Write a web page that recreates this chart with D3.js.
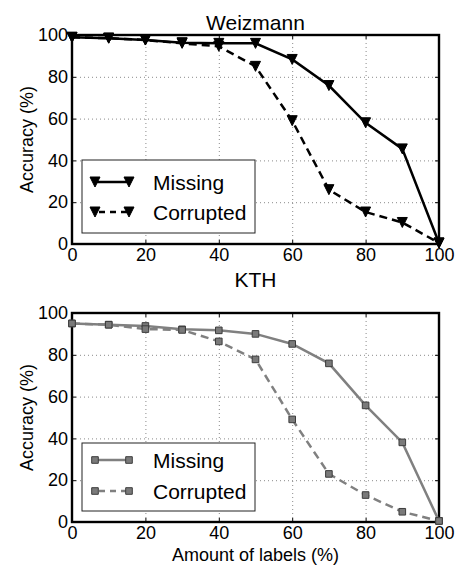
<!DOCTYPE html>
<html>
<head>
<meta charset="utf-8">
<script src="https://cdn.jsdelivr.net/npm/d3@7"></script>
<style>
  html, body { margin: 0; padding: 0; background: #fff; }
  svg { display: block; font-family: "Liberation Sans", Arial, sans-serif; }
</style>
</head>
<body>
<svg id="chart" width="461" height="566"></svg>
<script>
// Werte
const labelAmounts = [0, 10, 20, 30, 40, 50, 60, 70, 80, 90, 100];
const weizmannMissing   = [98.9, 98.5, 97.6, 96.3, 96.0, 96.0, 88.3, 75.8, 58.0, 45.5, 0.5];
const weizmannCorrupted = [98.9, 98.5, 97.6, 96.0, 94.6, 85.0, 59.0, 26.0, 15.3, 10.3, 0.5];
const kthMissing   = [95.0, 94.4, 93.8, 92.2, 91.7, 90.0, 85.2, 75.9, 55.8, 38.1, 0.5];
const kthCorrupted = [95.0, 94.4, 92.3, 91.9, 86.4, 77.8, 49.1, 23.0, 12.9, 4.9, 0.5];
const tickValues = [0, 20, 40, 60, 80, 100];
const gridValues = [20, 40, 60, 80];
const seriesNames = ['Missing', 'Corrupted'];

const svg = d3.select('#chart');

const panels = [
  { title: 'Weizmann', titleY: 30, top: 35, bottom: 244, xLabel: null,
    series: [weizmannMissing, weizmannCorrupted],
    line: '#000', fill: '#000', edge: '#000', marker: 'tri',
    legend: { x: 82, y: 160, w: 173, h: 73, rows: [182, 212] } },
  { title: 'KTH', titleY: 287, top: 313, bottom: 522, xLabel: 'Amount of labels (%)',
    series: [kthMissing, kthCorrupted],
    line: '#808080', fill: '#7a7a7a', edge: '#3c3c3c', marker: 'sq',
    legend: { x: 82, y: 443, w: 173, h: 68, rows: [460, 491] } }
];

const left = 72, right = 439;

function markerPath(kind) {
  if (kind === 'tri') {
    const h = 5;
    return `M${-h},${-h}L${h},${-h}L0,${h}Z`;
  }
  const s = 3.3;
  return `M${-s},${-s}H${s}V${s}H${-s}Z`;
}

function drawPanel(p) {
  const g = svg.append('g');
  const x = d3.scaleLinear().domain([0, 100]).range([left, right]);
  const y = d3.scaleLinear().domain([0, 100]).range([p.bottom, p.top]);
  const h = p.bottom - p.top, w = right - left;

  // Gitter
  const gx = g.append('g').attr('transform', `translate(0,${p.bottom})`)
    .call(d3.axisBottom(x).tickValues(gridValues).tickSize(-h).tickFormat(''));
  const gy = g.append('g').attr('transform', `translate(${left},0)`)
    .call(d3.axisLeft(y).tickValues(gridValues).tickSize(-w).tickFormat(''));
  [gx, gy].forEach(a => {
    a.select('.domain').remove();
    a.selectAll('line').attr('stroke', '#8a8a8a').attr('stroke-width', 1).attr('stroke-dasharray', '1,3');
  });

  // Achsen mit Ticks nach innen
  const axes = [
    g.append('g').attr('transform', `translate(0,${p.bottom})`)
      .call(d3.axisBottom(x).tickValues(tickValues).tickSize(-4).tickPadding(4)),
    g.append('g').attr('transform', `translate(${left},0)`)
      .call(d3.axisLeft(y).tickValues(tickValues).tickSize(-4).tickPadding(4)),
    g.append('g').attr('transform', `translate(0,${p.top})`)
      .call(d3.axisTop(x).tickValues(tickValues).tickSize(-4).tickFormat('')),
    g.append('g').attr('transform', `translate(${right},0)`)
      .call(d3.axisRight(y).tickValues(tickValues).tickSize(-4).tickFormat(''))
  ];
  axes.forEach(a => {
    a.select('.domain').remove();
    a.selectAll('line').attr('stroke', '#000').attr('stroke-width', 1);
    a.selectAll('text').attr('font-size', 18).attr('fill', '#000')
      .attr('font-family', '"Liberation Sans", Arial, sans-serif');
  });

  g.append('rect')
    .attr('x', left).attr('y', p.top).attr('width', w).attr('height', h)
    .attr('fill', 'none').attr('stroke', '#000').attr('stroke-width', 2.4);

  const line = d3.line().x((d, i) => x(labelAmounts[i])).y(d => y(d));
  const dashes = [null, '8,5'];

  p.series.forEach((vals, si) => {
    g.append('path').datum(vals)
      .attr('d', line)
      .attr('fill', 'none')
      .attr('stroke', p.line)
      .attr('stroke-width', 2.5)
      .attr('stroke-dasharray', dashes[si]);
    g.selectAll(null).data(vals).enter().append('path')
      .attr('d', markerPath(p.marker))
      .attr('transform', (d, i) => `translate(${x(labelAmounts[i])},${y(d)})`)
      .attr('fill', p.fill)
      .attr('stroke', p.edge)
      .attr('stroke-width', 1);
  });

  // Titel und Achsenbeschriftungen
  g.append('text').attr('x', (left + right) / 2).attr('y', p.titleY)
    .attr('text-anchor', 'middle').attr('font-size', 21).text(p.title);
  g.append('text')
    .attr('transform', `translate(27,${(p.top + p.bottom) / 2}) rotate(-90)`)
    .attr('text-anchor', 'middle').attr('dominant-baseline', 'central')
    .attr('font-size', 18).text('Accuracy (%)');
  if (p.xLabel) {
    g.append('text').attr('x', (left + right) / 2).attr('y', 561)
      .attr('text-anchor', 'middle').attr('font-size', 18).text(p.xLabel);
  }

  // Legende
  const L = p.legend;
  const lg = g.append('g');
  lg.append('rect').attr('x', L.x).attr('y', L.y).attr('width', L.w).attr('height', L.h)
    .attr('fill', '#fff').attr('stroke', '#222').attr('stroke-width', 1);
  seriesNames.forEach((name, si) => {
    const ry = L.rows[si];
    lg.append('line').attr('x1', 95).attr('x2', 129).attr('y1', ry).attr('y2', ry)
      .attr('stroke', p.line).attr('stroke-width', 2.5)
      .attr('stroke-dasharray', si ? '6,5' : null)
      .attr('stroke-dashoffset', si ? -4 : 0);
    [95, 129].forEach(mx => {
      lg.append('path').attr('d', markerPath(p.marker))
        .attr('transform', `translate(${mx},${ry})`)
        .attr('fill', p.fill).attr('stroke', p.edge).attr('stroke-width', 1);
    });
    lg.append('text').attr('x', 153).attr('y', ry)
      .attr('dominant-baseline', 'central').attr('font-size', 21).text(name);
  });
}

panels.forEach(drawPanel);
</script>
</body>
</html>
